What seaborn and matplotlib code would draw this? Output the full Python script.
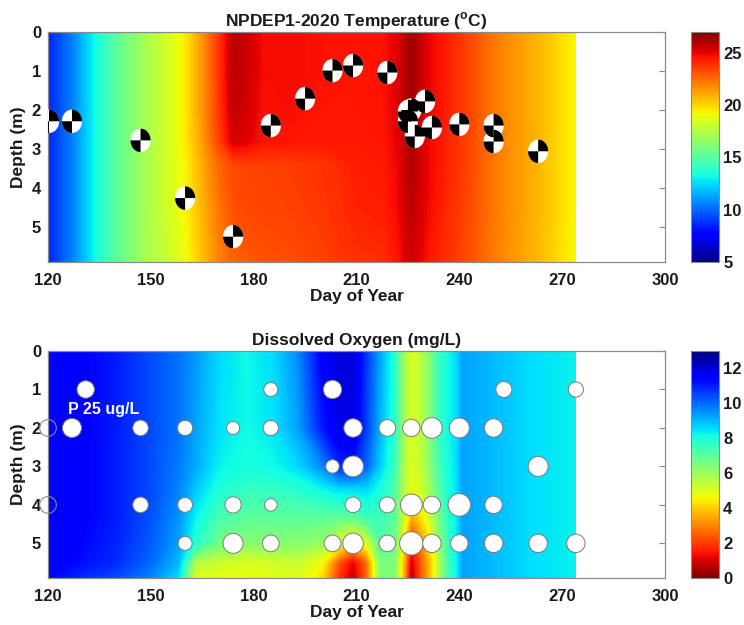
import numpy as np
import pandas as pd
import matplotlib
matplotlib.use("Agg")
import matplotlib.pyplot as plt
import seaborn as sns
from matplotlib.path import Path
from matplotlib.colors import Normalize
from matplotlib.cm import ScalarMappable

# ---------------- data ----------------
x_ticks = [120, 150, 180, 210, 240, 270, 300]
y_ticks = [0, 1, 2, 3, 4, 5]
temp_cbar_ticks = [5, 10, 15, 20, 25]
do_cbar_ticks = [0, 2, 4, 6, 8, 10, 12]

# temperature field (rows = depth, cols = day)
temp_days = [120, 127, 134, 141, 148, 155, 160, 165, 170, 174, 178, 183, 190,
             200, 210, 218, 222, 226, 231, 236, 242, 248, 255, 262, 268, 274]
temp_depths = [0, 1, 2, 2.8, 3.4, 4.5, 5.9]
temp_vals = [
    [8.5, 10.5, 13.3, 15.5, 17, 18.3, 19.5, 21.5, 23.8, 25.9, 25.6, 24.7, 24.8, 24.6, 24.5, 24.6, 25.2, 26.4, 25.0, 24.3, 23.5, 22.5, 21.6, 20.9, 20.1, 19.2],
    [8.5, 10.5, 13.3, 15.5, 17, 18.3, 19.5, 21.5, 23.8, 25.8, 25.5, 24.7, 24.8, 24.6, 24.5, 24.6, 25.2, 26.4, 25.0, 24.3, 23.5, 22.5, 21.6, 20.9, 20.1, 19.2],
    [8.5, 10.5, 13.3, 15.5, 17, 18.3, 19.5, 21.5, 23.7, 25.7, 25.4, 24.6, 24.7, 24.5, 24.5, 24.6, 25.1, 26.3, 25.0, 24.3, 23.5, 22.5, 21.6, 20.9, 20.1, 19.2],
    [8.5, 10.5, 13.3, 15.5, 17, 18.3, 19.5, 21.3, 23.5, 25.3, 25.1, 24.5, 24.5, 24.4, 24.4, 24.5, 25.0, 26.2, 24.9, 24.2, 23.5, 22.5, 21.6, 20.9, 20.1, 19.2],
    [8.5, 10.5, 13.3, 15.5, 17, 18.3, 19.3, 21.0, 22.6, 23.3, 23.5, 23.5, 23.6, 23.8, 24.3, 24.4, 24.9, 26.0, 24.9, 24.2, 23.5, 22.5, 21.6, 20.9, 20.1, 19.2],
    [8.5, 10.5, 13.3, 15.5, 17, 18.3, 19.2, 20.8, 22.3, 23.1, 23.3, 23.4, 23.5, 23.7, 24.2, 24.3, 24.8, 25.8, 24.8, 24.1, 23.4, 22.5, 21.6, 20.9, 20.1, 19.2],
    [8.5, 10.5, 13.3, 15.5, 17, 18.0, 19.0, 20.5, 21.9, 22.7, 22.9, 23.1, 23.2, 23.5, 23.9, 24.0, 24.5, 25.5, 24.5, 23.9, 23.3, 22.4, 21.5, 20.8, 20.0, 19.1],
]

# Secchi depth markers
secchi_day = [120.3, 127, 147, 160, 174, 185, 195, 203, 209, 219, 230, 225, 226,
              225, 227, 232, 240, 250, 250, 263]
secchi_depth = [2.29, 2.29, 2.78, 4.26, 5.25, 2.40, 1.71, 0.99, 0.86, 1.04, 1.78,
                2.04, 2.0, 2.29, 2.68, 2.45, 2.37, 2.40, 2.81, 3.06]

# dissolved oxygen field (one list per day, values at do_depths)
do_depths = [0, 2, 3, 3.6, 4.3, 5.0, 5.5, 5.9]
do_days = [120, 130, 140, 150, 158, 163, 170, 178, 186, 193, 200, 205, 209, 213,
           217, 221, 224, 226, 228, 231, 234, 237, 239, 241, 250, 260, 274]
do_cols = [
    [11.6, 11.6, 11.6, 11.6, 11.6, 11.6, 11.5, 11.3],
    [11.4, 11.4, 11.4, 11.4, 11.4, 11.3, 11.2, 10.8],
    [11.0, 11.0, 11.0, 11.0, 11.0, 10.9, 10.8, 10.4],
    [10.4, 10.4, 10.4, 10.4, 10.3, 10.2, 10.0, 9.6],
    [9.9, 9.9, 9.8, 9.7, 9.5, 9.3, 9.0, 8.5],
    [9.4, 9.3, 9.2, 8.8, 8.3, 7.8, 5.6, 5.0],
    [8.6, 8.5, 8.3, 7.9, 7.3, 6.6, 5.3, 4.8],
    [8.2, 8.2, 8.0, 7.6, 7.0, 6.3, 5.0, 4.8],
    [8.6, 8.5, 8.2, 7.6, 7.0, 6.3, 5.2, 4.9],
    [9.6, 9.3, 8.6, 7.8, 7.0, 6.3, 5.3, 5.0],
    [11.5, 11.0, 9.6, 8.2, 7.0, 6.0, 4.6, 4.2],
    [12.0, 11.8, 10.8, 8.5, 7.0, 4.8, 2.3, 1.8],
    [12.0, 11.8, 11.0, 8.5, 7.0, 3.8, 1.1, 0.7],
    [10.6, 10.5, 10.0, 8.6, 7.5, 5.0, 2.6, 2.6],
    [9.2, 9.0, 8.7, 8.0, 7.5, 7.0, 6.5, 6.5],
    [7.8, 7.8, 7.5, 7.2, 7.0, 6.8, 6.5, 6.5],
    [5.8, 5.8, 5.6, 5.5, 5.2, 4.0, 3.5, 3.3],
    [5.0, 5.0, 5.0, 4.8, 3.5, 1.5, 0.8, 0.3],
    [5.3, 5.3, 5.2, 5.0, 4.0, 2.5, 2.0, 1.8],
    [6.2, 6.2, 6.0, 5.8, 5.0, 4.0, 3.5, 3.5],
    [7.5, 7.5, 7.3, 7.0, 6.5, 6.0, 5.5, 5.5],
    [8.2, 8.2, 8.1, 8.0, 7.8, 7.6, 7.5, 7.5],
    [8.5, 8.5, 8.5, 8.4, 8.3, 8.2, 8.1, 8.1],
    [9.3, 9.3, 9.3, 9.3, 9.3, 9.3, 9.3, 9.3],
    [9.0, 9.0, 9.0, 9.0, 9.0, 9.0, 9.0, 9.0],
    [8.6, 8.6, 8.6, 8.6, 8.6, 8.6, 8.6, 8.6],
    [8.3, 8.3, 8.3, 8.3, 8.3, 8.3, 8.3, 8.3],
]

# phosphorus samples (ug/L)
p_day = [131, 185, 203, 253, 274,
         127, 147, 160, 174, 185, 209, 219, 226, 232, 240, 250,
         203, 209, 263,
         147, 160, 174, 185, 209, 219, 226, 232, 240, 250,
         160, 174, 185, 203, 209, 219, 226, 232, 240, 250, 263, 274]
p_depth = [1, 1, 1, 1, 1,
           2, 2, 2, 2, 2, 2, 2, 2, 2, 2, 2,
           3, 3, 3,
           4, 4, 4, 4, 4, 4, 4, 4, 4, 4,
           5, 5, 5, 5, 5, 5, 5, 5, 5, 5, 5, 5]
p_conc = [25, 16, 28, 21, 19,
          30, 20, 19, 14, 19, 28, 23, 25, 35, 33, 28,
          15, 36, 33,
          20, 18, 22, 13, 20, 21, 39, 25, 42, 25,
          16, 33, 23, 23, 35, 23, 45, 28, 25, 28, 28, 28]
p_empty_day = [120, 120]
p_empty_depth = [2, 4]

# ---------------- style ----------------
sns.set_theme(style="white")
plt.rcParams["font.family"] = ["Liberation Sans", "DejaVu Sans"]
plt.rcParams["font.weight"] = "bold"
plt.rcParams["axes.labelweight"] = "bold"
plt.rcParams["axes.titleweight"] = "bold"
plt.rcParams["mathtext.fontset"] = "custom"
plt.rcParams["mathtext.bf"] = "Liberation Sans:bold"
plt.rcParams["mathtext.rm"] = "Liberation Sans:bold"

fig = plt.figure(figsize=(7.44, 6.25), dpi=100)
ax1 = fig.add_axes([0.0645, 0.5808, 0.8293, 0.368])
ax2 = fig.add_axes([0.0645, 0.0752, 0.8293, 0.3632])
cax1 = fig.add_axes([0.9288, 0.5808, 0.0376, 0.368])
cax2 = fig.add_axes([0.9288, 0.0752, 0.0376, 0.3632])

spine_col = "#8a8a8a"
txt_col = "#1a1a1a"


def style_axes(ax):
    ax.set_xlim(120, 300)
    ax.set_ylim(5.9, 0)
    ax.set_xticks(x_ticks)
    ax.set_yticks(y_ticks)
    ax.tick_params(direction="in", top=True, right=True, length=4, width=0.8,
                   color=spine_col, labelsize=12, labelcolor=txt_col)
    ax.tick_params(axis="x", pad=8)
    ax.tick_params(axis="y", pad=5)
    for s in ax.spines.values():
        s.set_color(spine_col)
        s.set_linewidth(0.9)
    ax.set_xlabel("Day of Year", fontsize=12.5, color=txt_col, labelpad=1)
    ax.set_ylabel("Depth (m)", fontsize=12.5, color=txt_col, labelpad=4)


# ---------------- temperature ----------------
tnorm = Normalize(5, 27)
ax1.contourf(temp_days, temp_depths, np.array(temp_vals),
             levels=np.linspace(5, 27, 221), cmap="jet", norm=tnorm, extend="both")

# Secchi disc marker (quartered ellipse)
t = np.linspace(0, 2 * np.pi, 73)
ex, ey = 0.86, 1.0
ellipse = Path(np.column_stack([ex * np.cos(t), ey * np.sin(t)]), closed=True)
a1 = np.linspace(0, np.pi / 2, 19)
a2 = np.linspace(np.pi, 1.5 * np.pi, 19)
w1 = [(0, 0)] + [(ex * np.cos(a), ey * np.sin(a)) for a in a1] + [(0, 0)]
w2 = [(0, 0)] + [(ex * np.cos(a), ey * np.sin(a)) for a in a2] + [(0, 0)]
codes = [Path.MOVETO] + [Path.LINETO] * (len(w1) - 2) + [Path.CLOSEPOLY]
quarters = Path(w1 + w2, codes + codes)

sdf = pd.DataFrame({"day": secchi_day, "depth": secchi_depth})
sns.scatterplot(data=sdf, x="day", y="depth", ax=ax1, marker=ellipse, s=286,
                color="white", edgecolor="none", linewidth=0, legend=False, zorder=3)
sns.scatterplot(data=sdf, x="day", y="depth", ax=ax1, marker=quarters, s=286,
                color="black", edgecolor="none", linewidth=0, legend=False, zorder=4)
style_axes(ax1)
ax1.set_title(r"NPDEP1-2020 Temperature ($^{\mathbf{o}}$C)", fontsize=12.5,
              color=txt_col, pad=4)

cb1 = fig.colorbar(ScalarMappable(norm=tnorm, cmap="jet"), cax=cax1, ticks=temp_cbar_ticks)

# ---------------- dissolved oxygen ----------------
dnorm = Normalize(0, 13)
ax2.contourf(do_days, do_depths, np.array(do_cols).T,
             levels=np.linspace(0, 13, 261), cmap="jet_r", norm=dnorm, extend="both")

pdf = pd.DataFrame({"day": p_day, "depth": p_depth, "P": p_conc})
sns.scatterplot(data=pdf, x="day", y="depth", size="P", sizes=(0, 377),
                size_norm=(0, 60), ax=ax2, color="white", edgecolor="#7a7a7a",
                linewidth=0.7, legend=False, zorder=3)
edf = pd.DataFrame({"day": p_empty_day, "depth": p_empty_depth})
sns.scatterplot(data=edf, x="day", y="depth", ax=ax2, s=145, facecolor="none",
                edgecolor="#8a8a8a", linewidth=0.8, legend=False, zorder=3,
                clip_on=False)
ax2.text(125.8, 1.52, "P 25 ug/L", color="white", fontsize=11.5,
         fontweight="bold", va="center", ha="left", zorder=5)
style_axes(ax2)
ax2.set_title("Dissolved Oxygen (mg/L)", fontsize=12.5, color=txt_col, pad=4)

cb2 = fig.colorbar(ScalarMappable(norm=dnorm, cmap="jet_r"), cax=cax2, ticks=do_cbar_ticks)

for cb in (cb1, cb2):
    cb.outline.set_edgecolor(spine_col)
    cb.outline.set_linewidth(0.8)
    cb.ax.tick_params(length=0, labelsize=12, labelcolor=txt_col, pad=3)

fig.savefig("out.png", dpi=100)
